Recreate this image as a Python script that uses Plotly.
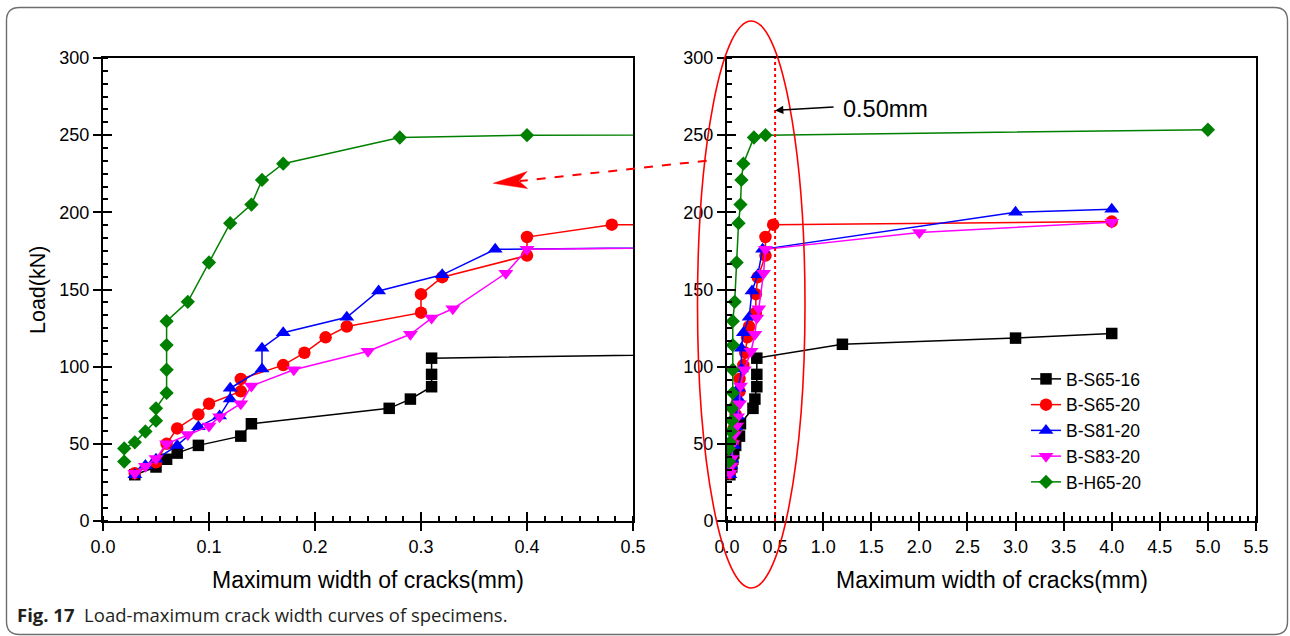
import plotly.graph_objects as go

# Crack width (mm) and load (kN) for each specimen
x_s65_16 = [0.03, 0.05, 0.06, 0.07, 0.09, 0.13, 0.14, 0.27, 0.29, 0.31, 0.31, 0.31, 1.2, 3.0, 4.0]
load_s65_16 = [30, 35, 40, 44, 49, 55, 63, 73, 79, 87, 95, 105.5, 114.5, 118.5, 121.5]

x_s65_20 = [0.03, 0.05, 0.06, 0.07, 0.09, 0.10, 0.13, 0.13, 0.17, 0.19, 0.21, 0.23,
            0.30, 0.30, 0.32, 0.40, 0.40, 0.48, 4.0]
load_s65_20 = [31, 38, 50, 60, 69, 76, 84, 92, 101, 109, 119, 126,
               135, 147, 158, 172, 184, 192, 194]

x_s81_20 = [0.03, 0.04, 0.05, 0.07, 0.09, 0.11, 0.12, 0.12, 0.15, 0.15, 0.17, 0.23,
            0.26, 0.32, 0.37, 3.0, 4.0]
load_s81_20 = [30, 36, 40, 49, 61, 68, 79, 86, 98.5, 112, 122, 132,
               149, 159.5, 176, 200, 202]

x_s83_20 = [0.03, 0.04, 0.05, 0.06, 0.08, 0.10, 0.11, 0.13, 0.14, 0.18, 0.25, 0.29,
            0.31, 0.33, 0.38, 0.40, 2.0, 4.0]
load_s83_20 = [31, 35.5, 40.5, 50, 56, 61.5, 67.5, 76, 87.5, 98, 110, 121,
               131.5, 137.5, 160.5, 176, 187, 193.5]

x_h65_20 = [0.02, 0.02, 0.03, 0.04, 0.05, 0.05, 0.06, 0.06, 0.06, 0.06, 0.08, 0.10,
            0.12, 0.14, 0.15, 0.17, 0.28, 0.40, 5.0]
load_h65_20 = [38.5, 47, 51, 58, 65, 73, 83, 98, 114, 129.5, 142, 167.5,
               193, 205, 221, 231.5, 248.5, 250, 253.5]

names = ["B-S65-16", "B-S65-20", "B-S81-20", "B-S83-20", "B-H65-20"]
widths = [x_s65_16, x_s65_20, x_s81_20, x_s83_20, x_h65_20]
loads = [load_s65_16, load_s65_20, load_s81_20, load_s83_20, load_h65_20]
colors = ["#000000", "#ff0000", "#0000ff", "#ff00ff", "#008000"]
symbols = ["square", "circle", "triangle-up", "triangle-down", "diamond"]
sizes = [11.5, 12.5, 13, 13, 11]

limit_width = 0.5  # crack width limit marked on the full-range panel

W, H = 1290, 636


def px(x):
    return x / W


def py(y):
    return 1 - y / H


FONT = "Liberation Sans, Arial, sans-serif"

fig = go.Figure()
for name, xs, ys, c, s, sz in zip(names, widths, loads, colors, symbols, sizes):
    for xa, ya, leg in (("x", "y", False), ("x2", "y2", True)):
        fig.add_trace(go.Scatter(
            x=xs, y=ys, mode="lines+markers", name=name,
            xaxis=xa, yaxis=ya, showlegend=leg, legendgroup=name,
            line=dict(color=c, width=1.5),
            marker=dict(symbol=s, size=sz, color=c, line=dict(width=0)),
        ))

# empty traces that carry the inner halves of the major ticks
for xa, ya in (("x3", "y"), ("x4", "y2"), ("x", "y3"), ("x2", "y4")):
    fig.add_trace(go.Scatter(x=[], y=[], xaxis=xa, yaxis=ya, showlegend=False,
                             hoverinfo="skip"))

tickfont = dict(family=FONT, size=18, color="black")


def main_axis(domain, rng, dtick, fmt, anchor, minor_dtick):
    return dict(
        domain=domain, range=rng, dtick=dtick, tick0=0, tickformat=fmt, anchor=anchor,
        showline=True, linecolor="black", linewidth=2, mirror=True,
        ticks="outside", ticklen=8, tickwidth=2, tickcolor="black",
        minor=dict(ticks="inside", ticklen=5, tickwidth=1.5, tickcolor="black",
                   dtick=minor_dtick, tick0=0, showgrid=False),
        showgrid=False, zeroline=False, tickfont=tickfont, fixedrange=True,
        automargin=False,
    )


def inner_ticks(base, rng, dtick, anchor):
    return dict(
        overlaying=base, range=rng, dtick=dtick, tick0=0, anchor=anchor,
        ticks="inside", ticklen=9, tickwidth=2, tickcolor="black",
        showticklabels=False, showline=False, showgrid=False, zeroline=False,
        fixedrange=True, automargin=False,
    )


xdom1 = [px(103), px(633)]
xdom2 = [px(727), px(1256)]
ydom = [py(521), py(58)]

fig.update_layout(
    width=W, height=H,
    margin=dict(l=0, r=0, t=0, b=0, pad=0, autoexpand=False),
    paper_bgcolor="white", plot_bgcolor="white",
    xaxis=main_axis(xdom1, [0, 0.5], 0.1, ".1f", "y", 0.1 / 6),
    yaxis=main_axis(ydom, [0, 300], 50, "d", "x", 50 / 6),
    xaxis2=main_axis(xdom2, [0, 5.5], 0.5, ".1f", "y2", 0.5 / 6),
    yaxis2=main_axis(ydom, [0, 300], 50, "d", "x2", 50 / 6),
    xaxis3=inner_ticks("x", [0, 0.5], 0.1, "y"),
    xaxis4=inner_ticks("x2", [0, 5.5], 0.5, "y2"),
    yaxis3=inner_ticks("y", [0, 300], 50, "x"),
    yaxis4=inner_ticks("y2", [0, 300], 50, "x2"),
    legend=dict(x=px(1026), y=py(361), xanchor="left", yanchor="top",
                bgcolor="rgba(0,0,0,0)", borderwidth=0, tracegroupgap=0,
                font=dict(family=FONT, size=17.5, color="black")),
    showlegend=True,
)

annotations = [
    dict(text="Load(kN)", x=px(38), y=py(290), xref="paper", yref="paper",
         xanchor="center", yanchor="middle", textangle=-90, showarrow=False,
         font=dict(family=FONT, size=21.5, color="black")),
    dict(text="Maximum width of cracks(mm)", x=px(368), y=py(580), xref="paper",
         yref="paper", xanchor="center", yanchor="middle", showarrow=False,
         font=dict(family=FONT, size=23, color="black")),
    dict(text="Maximum width of cracks(mm)", x=px(991.5), y=py(580), xref="paper",
         yref="paper", xanchor="center", yanchor="middle", showarrow=False,
         font=dict(family=FONT, size=23, color="black")),
    dict(text="0.50mm", x=px(885.5), y=py(109), xref="paper", yref="paper",
         xanchor="center", yanchor="middle", showarrow=False,
         font=dict(family=FONT, size=23.5, color="black")),
    dict(text="", x=limit_width, y=266, xref="x2", yref="y2", ax=60, ay=-3.5,
         showarrow=True, arrowhead=2, arrowsize=1.1, arrowwidth=1.5, arrowcolor="black"),
    dict(text="<b>Fig. 17</b>  Load-maximum crack width curves of specimens.",
         x=px(15), y=py(614), xref="paper", yref="paper", xanchor="left",
         yanchor="middle", showarrow=False,
         font=dict(family="Open Sans, sans-serif", size=18.5, color="#231f20")),
]

# rounded frame around the figure
bx0, by0, bx1, by1, r = 6.5, 7.5, 1287.5, 634.5, 13
frame_path = (
    f"M {px(bx0 + r)},{py(by0)} L {px(bx1 - r)},{py(by0)} "
    f"Q {px(bx1)},{py(by0)} {px(bx1)},{py(by0 + r)} "
    f"L {px(bx1)},{py(by1 - r)} Q {px(bx1)},{py(by1)} {px(bx1 - r)},{py(by1)} "
    f"L {px(bx0 + r)},{py(by1)} Q {px(bx0)},{py(by1)} {px(bx0)},{py(by1 - r)} "
    f"L {px(bx0)},{py(by0 + r)} Q {px(bx0)},{py(by0)} {px(bx0 + r)},{py(by0)} Z"
)

arrow_head = (
    f"M {px(493.3)},{py(183.3)} L {px(527)},{py(171.5)} L {px(519)},{py(181)} "
    f"L {px(527.5)},{py(188.5)} Z"
)

shapes = [
    dict(type="path", path=frame_path, xref="paper", yref="paper",
         line=dict(color="#6e6e6e", width=1.4), layer="below"),
    dict(type="line", x0=limit_width, x1=limit_width, y0=0, y1=300, xref="x2", yref="y2",
         line=dict(color="#ff0000", width=2, dash="dot")),
    dict(type="circle", xref="paper", yref="paper",
         x0=px(697.5), x1=px(805), y0=py(588), y1=py(21),
         line=dict(color="#ff0000", width=1.6)),
    dict(type="line", xref="paper", yref="paper",
         x0=px(706.7), y0=py(160.7), x1=px(520), y1=py(181),
         line=dict(color="#ff0000", width=2, dash="dash")),
    dict(type="path", path=arrow_head, xref="paper", yref="paper",
         fillcolor="#ff0000", line=dict(color="#ff0000", width=0.5)),
]

fig.update_layout(annotations=annotations, shapes=shapes)

fig.write_html("out.html")
